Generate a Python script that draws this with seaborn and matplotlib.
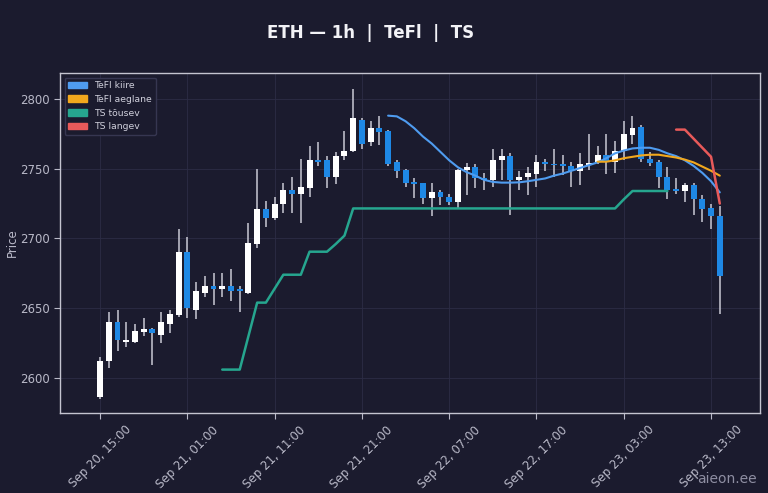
import matplotlib
matplotlib.use("Agg")
import matplotlib.pyplot as plt
import matplotlib.patches as mpatches
import seaborn as sns
import pandas as pd
import numpy as np

# hourly candles, Sep 20 15:00 -> Sep 23 14:00
times = pd.date_range("2025-09-20 15:00", periods=72, freq="h")

opens = [2586, 2612, 2640, 2626, 2626, 2633, 2635, 2631, 2639, 2645,
         2690, 2649, 2661, 2666, 2664, 2666, 2664, 2661, 2696, 2721,
         2715, 2725, 2735, 2732, 2736, 2756, 2756, 2744, 2759, 2763,
         2785, 2769, 2779, 2777, 2755, 2749, 2740, 2740, 2729, 2733,
         2730, 2726, 2749, 2751, 2743, 2742, 2756, 2759, 2742, 2744,
         2746, 2755, 2753.5, 2753, 2752, 2748, 2753, 2755, 2760, 2755,
         2763, 2774, 2780, 2757, 2755, 2744, 2735, 2734, 2738, 2728,
         2722, 2716]
highs = [2615, 2647, 2649, 2640, 2639, 2643, 2636, 2647, 2649, 2707,
         2701, 2669, 2673, 2675, 2675, 2678, 2666, 2711, 2750, 2727,
         2730, 2740, 2744, 2757, 2766, 2769, 2759, 2762, 2777, 2807,
         2786, 2784, 2788, 2778, 2756, 2750, 2743, 2740, 2740, 2735,
         2732, 2750, 2754, 2753, 2747, 2764, 2764, 2761, 2748, 2751,
         2760, 2757, 2764, 2760, 2755, 2761, 2775, 2766, 2775, 2770,
         2784, 2788, 2781, 2762, 2756, 2751, 2743, 2740, 2740, 2731,
         2725, 2723]
lows = [2585, 2607, 2619, 2622, 2625, 2630, 2609, 2625, 2632, 2644,
        2643, 2642, 2658, 2652, 2658, 2655, 2647, 2660, 2693, 2708,
        2713, 2718, 2718, 2711, 2730, 2752, 2736, 2739, 2756, 2762,
        2764, 2766, 2767, 2752, 2743, 2737, 2729, 2725, 2716, 2724,
        2724, 2722, 2731, 2736, 2735, 2737, 2742, 2717, 2735, 2731,
        2737, 2748, 2744, 2745.5, 2737, 2738, 2749, 2753, 2746, 2747,
        2756, 2768, 2755, 2752, 2736, 2728, 2732, 2726, 2717, 2712,
        2707, 2646]
closes = [2612, 2640, 2627, 2627, 2634, 2635, 2632, 2640, 2646, 2690,
          2650, 2662, 2666, 2664, 2666, 2662, 2662, 2697, 2721, 2715,
          2725, 2735, 2732, 2737, 2756, 2755, 2744, 2759, 2763, 2786,
          2768, 2779, 2776, 2753, 2748, 2740, 2739.5, 2729, 2733, 2730,
          2726, 2749, 2751, 2743, 2742, 2756, 2759, 2742, 2744, 2747,
          2755, 2753, 2752.5, 2752, 2748, 2753, 2754, 2760, 2755, 2763,
          2775, 2779, 2757, 2754, 2744, 2735, 2734, 2738, 2728, 2721,
          2716, 2673]

# indicator lines (first candle index + values)
tefl_fast_start = 33
tefl_fast = [2788, 2787.5, 2784, 2779, 2773, 2768, 2762, 2756, 2751, 2747.5,
             2745, 2742, 2740.5, 2740, 2740, 2740.2, 2741, 2742, 2743, 2745,
             2746.5, 2748.5, 2750.5, 2752.5, 2754.5, 2757.5, 2761, 2763, 2764.5, 2765,
             2765, 2763.5, 2761, 2759, 2756, 2752, 2747, 2741, 2733]
tefl_slow_start = 57
tefl_slow = [2755, 2755, 2756, 2757.5, 2758.5, 2759.5, 2760, 2760, 2759, 2758,
             2756.5, 2754.5, 2751.5, 2748.5, 2745]
ts_up_start = 14
ts_up = [2606, 2606, 2606, 2630, 2654, 2654, 2664, 2674, 2674, 2674,
         2690.5, 2690.5, 2690.5, 2696, 2702, 2721.5, 2721.5, 2721.5, 2721.5, 2721.5,
         2721.5, 2721.5, 2721.5, 2721.5, 2721.5, 2721.5, 2721.5, 2721.5, 2721.5, 2721.5,
         2721.5, 2721.5, 2721.5, 2721.5, 2721.5, 2721.5, 2721.5, 2721.5, 2721.5, 2721.5,
         2721.5, 2721.5, 2721.5, 2721.5, 2721.5, 2721.5, 2728, 2734, 2734, 2734,
         2734, 2734]
ts_down_start = 66
ts_down = [2778, 2778, 2771.5, 2765, 2758.5, 2725]

BG = "#1b1b2e"
FG = "#b9b9c8"
C_UP = "#ffffff"
C_DOWN = "#1e88e5"
C_FAST = "#4f9cf0"
C_SLOW = "#f2a81d"
C_TSUP = "#26a68f"
C_TSDN = "#e85a5a"

sns.set_theme(style="dark", rc={
    "figure.facecolor": BG,
    "axes.facecolor": BG,
    "axes.edgecolor": "#c4c4d0",
    "axes.labelcolor": FG,
    "xtick.color": FG,
    "ytick.color": FG,
    "grid.color": "#2c2c45",
    "text.color": FG,
})
plt.rcParams["font.family"] = ["DejaVu Sans"]

fig = plt.figure(figsize=(7.68, 4.93), dpi=100)
ax = fig.add_axes([0.078, 0.1623, 0.9115, 0.6897])

o = np.array(opens, dtype=float)
h = np.array(highs, dtype=float)
l = np.array(lows, dtype=float)
c = np.array(closes, dtype=float)
x = np.arange(len(o))
up = c >= o
body_h = np.maximum(np.abs(c - o), 1.3)
body_b = (o + c) / 2 - body_h / 2

# wicks then bodies
ax.vlines(x, l, h, color="#c9c9d4", lw=1.1, zorder=2)
ax.bar(x[up], body_h[up], bottom=body_b[up], width=0.68, color=C_UP, lw=0, zorder=3)
ax.bar(x[~up], body_h[~up], bottom=body_b[~up], width=0.68, color=C_DOWN, lw=0, zorder=3)

def add_line(start, vals, color, lw):
    d = pd.DataFrame({"x": np.arange(start, start + len(vals)), "y": vals})
    sns.lineplot(data=d, x="x", y="y", ax=ax, color=color, lw=lw, legend=False, zorder=4)

add_line(ts_up_start, ts_up, C_TSUP, 1.8)
add_line(tefl_fast_start, tefl_fast, C_FAST, 1.5)
add_line(tefl_slow_start, tefl_slow, C_SLOW, 1.5)
add_line(ts_down_start, ts_down, C_TSDN, 1.8)

ax.set_xlim(-4.6, 75.6)
ax.set_ylim(2574.9, 2818.6)
ticks = list(range(0, 72, 10))
ax.set_xticks(ticks)
ax.set_xticklabels([times[i].strftime("%b %d, %H:%M") for i in ticks], rotation=45, fontsize=8.5)
ax.set_yticks([2600, 2650, 2700, 2750, 2800])
ax.tick_params(axis="y", labelsize=8.5)
ax.tick_params(length=4, width=0.8, bottom=True, left=True)
ax.set_xlabel("")
ax.set_ylabel("Price", fontsize=8.5)
ax.yaxis.set_label_coords(-0.059, 0.5)
ax.grid(True, lw=0.6)
for s in ax.spines.values():
    s.set_linewidth(1.0)

handles = [mpatches.Patch(color=C_FAST, label="TeFl kiire"),
           mpatches.Patch(color=C_SLOW, label="TeFl aeglane"),
           mpatches.Patch(color=C_TSUP, label="TS tõusev"),
           mpatches.Patch(color=C_TSDN, label="TS langev")]
leg = ax.legend(handles=handles, loc="upper left", fontsize=6.7, frameon=True,
                facecolor=BG, edgecolor="#3a3a55", framealpha=0.9)
for t in leg.get_texts():
    t.set_color("#d0d0dc")

fig.text(0.483, 0.933, "ETH — 1h  |  TeFl  |  TS", ha="center", va="center",
         fontsize=12, fontweight="bold", color="#f2f2f6")
fig.text(0.986, 0.014, "aieon.ee", ha="right", va="bottom", fontsize=10, color="#8e8ea2")

fig.savefig("out.png", dpi=100, facecolor=BG)
